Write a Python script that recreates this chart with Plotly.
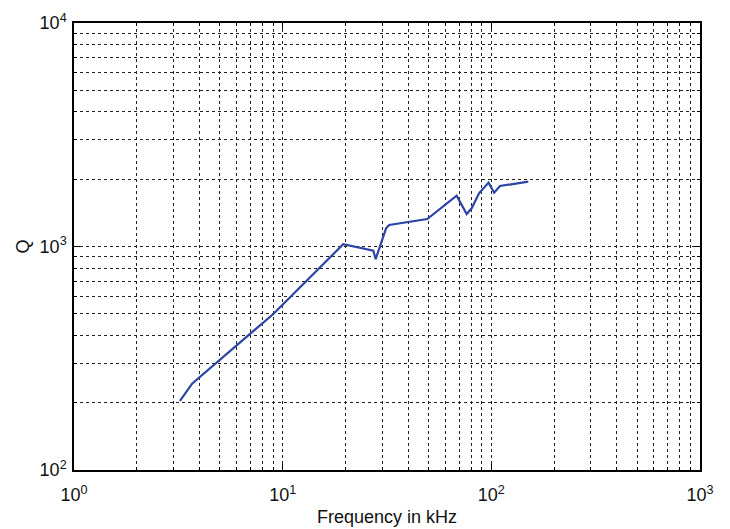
import plotly.graph_objects as go

freq_khz = [3.22, 3.69, 9.02, 19.5, 27.2, 27.9, 31.3, 32.4, 49.3, 68.2, 76.2, 80.5, 87.3, 97.0, 103.2, 110.0, 150.3]
q_values = [204, 244, 499, 1023, 958, 877, 1206, 1248, 1327, 1688, 1398, 1482, 1729, 1931, 1741, 1865, 1950]

x_major = [1, 10, 100, 1000]
x_major_text = ["10<sup>0</sup>", "10<sup>1</sup>", "10<sup>2</sup>", "10<sup>3</sup>"]
y_major = [100, 1000, 10000]
y_major_text = ["10<sup>2</sup>", "10<sup>3</sup>", "10<sup>4</sup>"]

x_minor = [m * d for d in [1, 10, 100] for m in range(2, 10)]
y_minor = [m * d for d in [100, 1000] for m in range(2, 10)]

grid = dict(gridcolor="#222222", gridwidth=1, griddash="3px,3px")

fig = go.Figure()
fig.add_trace(go.Scatter(x=freq_khz, y=q_values, mode="lines",
                         line=dict(color="#2C44A6", width=2.2), showlegend=False))

fig.update_xaxes(type="log", range=[0, 3], tickvals=x_major, ticktext=x_major_text,
                 showgrid=True, **grid, ticks="inside", ticklen=6, tickcolor="black",
                 showline=True, linecolor="black", linewidth=1.5, mirror="allticks",
                 zeroline=False, ticklabelstandoff=8, automargin=False,
                 minor=dict(tickvals=x_minor, showgrid=True, ticks="inside", ticklen=3,
                            tickcolor="black", **grid),
                 title=dict(text="Frequency in kHz", font=dict(size=18, color="#111111"), standoff=6),
                 tickfont=dict(size=18, color="#111111"))
fig.update_yaxes(type="log", range=[2, 4], tickvals=y_major, ticktext=y_major_text,
                 showgrid=True, **grid, ticks="inside", ticklen=6, tickcolor="black",
                 showline=True, linecolor="black", linewidth=1.5, mirror="allticks",
                 zeroline=False, ticklabelstandoff=2, automargin=False,
                 minor=dict(tickvals=y_minor, showgrid=True, ticks="inside", ticklen=3,
                            tickcolor="black", **grid),
                 title=dict(text="Q", font=dict(size=18, color="#111111"), standoff=5),
                 tickfont=dict(size=18, color="#111111"))

fig.update_layout(width=730, height=529, margin=dict(l=74, r=30, t=23, b=59, autoexpand=False),
                  paper_bgcolor="white", plot_bgcolor="white",
                  font=dict(family="Liberation Sans, Arial, sans-serif", color="#111111"))

fig.write_html("out.html")
